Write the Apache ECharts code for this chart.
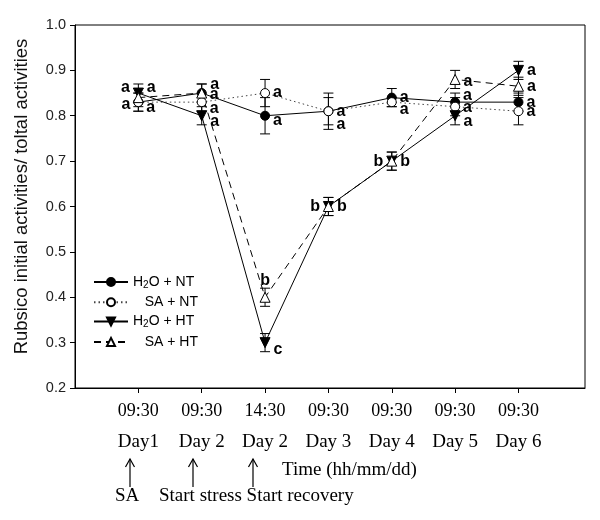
<!DOCTYPE html>
<html><head><meta charset="utf-8">
<script src="https://cdn.jsdelivr.net/npm/echarts@6/dist/echarts.min.js"></script>
<style>html,body{margin:0;padding:0;background:#fff}#c{width:600px;height:520px}</style>
</head><body><div id="c"></div>
<script>
// ---- data ----
const times = ['09:30','09:30','14:30','09:30','09:30','09:30','09:30'];
const days  = ['Day1','Day 2','Day 2','Day 3','Day 4','Day 5','Day 6'];
const yTickLabels = ['0.2','0.3','0.4','0.5','0.6','0.7','0.8','0.9','1.0'];

const h2oNT    = [0.83, 0.85, 0.80, 0.81, 0.84, 0.83, 0.83];
const h2oNTErr = [0.02, 0.02, 0.04, 0.03, 0.02, 0.02, 0.02];
const saNT     = [0.83, 0.83, 0.85, 0.81, 0.83, 0.82, 0.81];
const saNTErr  = [0.02, 0.02, 0.03, 0.04, 0.01, 0.02, 0.03];
const h2oHT    = [0.85, 0.80, 0.30, 0.60, 0.70, 0.80, 0.90];
const h2oHTErr = [0.02, 0.02, 0.02, 0.02, 0.02, 0.02, 0.02];
const saHT     = [0.84, 0.85, 0.40, 0.60, 0.70, 0.88, 0.865];
const saHTErr  = [0.02, 0.02, 0.02, 0.02, 0.02, 0.02, 0.02];

const h2oNTLetters = ['a','a','a','a','a','a','a'];
const saNTLetters  = ['a','a','a','a','a','a','a'];
const h2oHTLetters = ['a','a','c','b','b','a','a'];
const saHTLetters  = ['a','a','b','b','b','a','a'];

const seriesNames = ['H2O + NT', 'SA + NT', 'H2O + HT', 'SA + HT'];

// ---- label placement (style) ----
const h2oNTLab = [['left',2],['right',2],['right',5],['right',0],['right',0],['right',-7],['right',0]];
const saNTLab  = [['right',5],['right',6],['right',0],['right',13],['right',7],['right',1],['right',0]];
const h2oHTLab = [['left',-5],['right',6],['right',7],['right',0],['right',0],['right',6],['right',0]];
const saHTLab  = [['right',-10],['right',-8],['top',0],['left',0],['left',0],['right',2],['right',0]];

const letterFont = {fontFamily:'Liberation Sans, Arial, sans-serif', fontWeight:'bold', fontSize:16, color:'#000'};

function pts(vals, letters, lab){
  return vals.map((v,i)=>({
    value:[i, v],
    label:Object.assign({show:true, formatter:letters[i], position:lab[i][0], distance:3, offset:[0, lab[i][1]]}, letterFont)
  }));
}
function errData(vals, errs){ return vals.map((v,i)=>[i, v, errs[i]]); }

function errRender(params, api){
  const x = api.value(0), v = api.value(1), e = api.value(2);
  const t = api.coord([x, v+e]), b = api.coord([x, v-e]);
  const hw = 5, st = {stroke:'#000', lineWidth:1};
  return {type:'group', children:[
    {type:'line', shape:{x1:t[0], y1:t[1], x2:b[0], y2:b[1]}, style:st},
    {type:'line', shape:{x1:t[0]-hw, y1:t[1], x2:t[0]+hw, y2:t[1]}, style:st},
    {type:'line', shape:{x1:b[0]-hw, y1:b[1], x2:b[0]+hw, y2:b[1]}, style:st}
  ]};
}
function errSeries(id, vals, errs){
  return {type:'custom', name:id, renderItem:errRender, data:errData(vals, errs),
    encode:{x:0, y:1}, z:1, silent:true};
}

const chart = echarts.init(document.getElementById('c'), null, {renderer:'canvas'});
const serif = 'Liberation Serif, Times New Roman, serif';
const sans = 'Liberation Sans, Arial, sans-serif';

function legendFmt(name){
  if (name.indexOf('H2O') === 0) return '{n|H}{s|2}{n|O' + name.slice(3) + '}';
  return '{n|   ' + name + '}';
}

const option = {
  animation:false,
  backgroundColor:'#fff',
  grid:{left:75, right:15, top:25, bottom:132, show:true, borderColor:'#000', borderWidth:1},
  xAxis:{
    type:'value', min:-1, max:7.05,
    splitLine:{show:false},
    axisLine:{show:true, onZero:false, lineStyle:{color:'#000', width:1}},
    axisTick:{show:true, inside:false, length:5, customValues:[0,1,2,3,4,5,6], lineStyle:{color:'#000'}},
    axisLabel:{
      customValues:[0,1,2,3,4,5,6], margin:8,
      formatter:(v)=>{const i=Math.round(v); return '{t|'+times[i]+'}\n{d|'+days[i]+'}';},
      rich:{
        t:{fontFamily:serif, fontSize:18, lineHeight:31, color:'#000'},
        d:{fontFamily:serif, fontSize:19, lineHeight:31, color:'#000'}
      }
    }
  },
  yAxis:{
    type:'value', min:0.2, max:1.0, interval:0.1,
    splitLine:{show:false},
    axisLine:{show:true, onZero:false, lineStyle:{color:'#000', width:1}},
    axisTick:{show:true, inside:false, length:5, lineStyle:{color:'#000'}},
    axisLabel:{margin:9, fontFamily:sans, fontSize:14.5, color:'#222',
      formatter:(v)=>yTickLabels[Math.round((v-0.2)*10)]},
    name:'Rubsico initial activities/ toltal activities',
    nameLocation:'middle', nameRotate:90, nameGap:44,
    nameTextStyle:{fontFamily:sans, fontSize:18.5, color:'#111', padding:[0,0,0,20]}
  },
  legend:{
    orient:'vertical', left:93, top:275, padding:0,
    itemWidth:34, itemHeight:10, itemGap:5.3,
    data:seriesNames,
    formatter:legendFmt,
    textStyle:{
      fontFamily:sans, fontSize:14, color:'#000',
      rich:{
        n:{fontFamily:sans, fontSize:14, lineHeight:16, color:'#000'},
        s:{fontFamily:sans, fontSize:10, lineHeight:10, verticalAlign:'bottom', color:'#000'}
      }
    }
  },
  series:[
    errSeries('e1', h2oNT, h2oNTErr),
    errSeries('e2', saNT, saNTErr),
    errSeries('e3', h2oHT, h2oHTErr),
    errSeries('e4', saHT, saHTErr),
    {type:'line', name:seriesNames[0], data:pts(h2oNT, h2oNTLetters, h2oNTLab), z:3,
      symbol:'circle', symbolSize:9,
      lineStyle:{color:'#000', width:1, type:'solid'},
      itemStyle:{color:'#000', borderColor:'#000', borderWidth:1}},
    {type:'line', name:seriesNames[1], data:pts(saNT, saNTLetters, saNTLab), z:3,
      symbol:'circle', symbolSize:9,
      lineStyle:{color:'#444', width:1, type:[1.5,3]},
      itemStyle:{color:'#fff', borderColor:'#000', borderWidth:1}},
    {type:'line', name:seriesNames[2], data:pts(h2oHT, h2oHTLetters, h2oHTLab), z:3,
      symbol:'triangle', symbolSize:10, symbolRotate:180,
      lineStyle:{color:'#000', width:1, type:'solid'},
      itemStyle:{color:'#000', borderColor:'#000', borderWidth:1}},
    {type:'line', name:seriesNames[3], data:pts(saHT, saHTLetters, saHTLab), z:3,
      symbol:'triangle', symbolSize:10,
      lineStyle:{color:'#000', width:1, type:[7,5]},
      itemStyle:{color:'#fff', borderColor:'#000', borderWidth:1}}
  ]
};
chart.setOption(option);

// ---- bottom annotations ----
function arrow(x){
  const st = {stroke:'#000', lineWidth:1.2, fill:null};
  return {type:'group', silent:true, children:[
    {type:'line', shape:{x1:x, y1:487, x2:x, y2:459}, style:st},
    {type:'polyline', shape:{points:[[x-4.5,467],[x,459],[x+4.5,467]]}, style:st}
  ]};
}
chart.setOption({graphic:[
  arrow(130), arrow(193), arrow(253),
  {type:'text', left:282, top:461, style:{text:'Time (hh/mm/dd)', fontFamily:serif, fontSize:19, fill:'#000'}},
  {type:'text', left:115, top:487, style:{text:'SA', fontFamily:serif, fontSize:19, fill:'#000'}},
  {type:'text', left:159, top:487, style:{text:'Start stress Start recovery', fontFamily:serif, fontSize:19, fill:'#000'}}
]});
</script></body></html>
